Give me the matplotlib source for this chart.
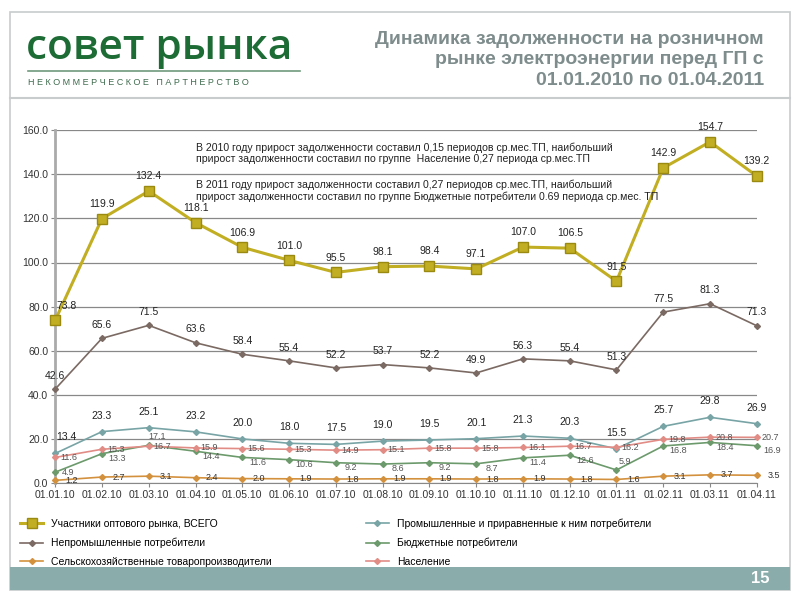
import matplotlib.pyplot as plt
import numpy as np

plt.rcParams['font.family'] = ['Liberation Sans', 'DejaVu Sans']

dates = ['01.01.10', '01.02.10', '01.03.10', '01.04.10', '01.05.10', '01.06.10',
         '01.07.10', '01.08.10', '01.09.10', '01.10.10', '01.11.10', '01.12.10',
         '01.01.11', '01.02.11', '01.03.11', '01.04.11']

total = [73.8, 119.9, 132.4, 118.1, 106.9, 101.0, 95.5, 98.1, 98.4, 97.1,
         107.0, 106.5, 91.5, 142.9, 154.7, 139.2]
nonind = [42.6, 65.6, 71.5, 63.6, 58.4, 55.4, 52.2, 53.7, 52.2, 49.9,
          56.3, 55.4, 51.3, 77.5, 81.3, 71.3]
industr = [13.4, 23.3, 25.1, 23.2, 20.0, 18.0, 17.5, 19.0, 19.5, 20.1,
           21.3, 20.3, 15.5, 25.7, 29.8, 26.9]
people = [11.6, 15.3, 16.7, 15.9, 15.6, 15.3, 14.9, 15.1, 15.8, 15.8,
          16.1, 16.7, 16.2, 19.8, 20.8, 20.7]
budget = [4.9, 13.3, 17.1, 14.4, 11.6, 10.6, 9.2, 8.6, 9.2, 8.7,
          11.4, 12.6, 5.9, 16.8, 18.4, 16.9]
agro = [1.2, 2.7, 3.1, 2.4, 2.0, 1.9, 1.8, 1.9, 1.9, 1.8,
        1.9, 1.8, 1.6, 3.1, 3.7, 3.5]

names = ['Участники оптового рынка, ВСЕГО',
         'Промышленные и приравненные к ним потребители',
         'Непромышленные потребители',
         'Бюджетные потребители',
         'Сельскохозяйственные товаропроизводители',
         'Население']

note2010 = ('В 2010 году прирост задолженности составил 0,15 периодов ср.мес.ТП, наибольший\n'
            'прирост задолженности составил по группе  Население 0,27 периода ср.мес.ТП')
note2011 = ('В 2011 году прирост задолженности составил 0,27 периодов ср.мес.ТП, наибольший\n'
            'прирост задолженности составил по группе Бюджетные потребители 0.69 периода ср.мес. ТП')

fig = plt.figure(figsize=(8, 6), dpi=100)
fig.patch.set_facecolor('white')

# slide frame, header and footer
fig.add_artist(plt.Rectangle((0.013, 0.017), 0.975, 0.963, fill=False,
                             edgecolor='#c8cccc', lw=1.2, transform=fig.transFigure))
fig.add_artist(plt.Line2D([0.013, 0.988], [0.837, 0.837], color='#c8cccc', lw=1.5))
fig.add_artist(plt.Rectangle((0.013, 0.017), 0.975, 0.038, facecolor='#8aacab',
                             edgecolor='none', transform=fig.transFigure))
fig.text(0.962, 0.036, '15', color='white', fontsize=12, fontweight='bold',
         ha='right', va='center')

fig.text(0.032, 0.92, 'совет рынка', color='#1d6b35', fontsize=30.5,
         fontweight='semibold', ha='left', va='center',
         family=['Open Sans', 'Liberation Sans'])
fig.add_artist(plt.Line2D([0.035, 0.375], [0.882, 0.882], color='#6f9b7d', lw=1.2))
fig.text(0.035, 0.862, 'Н Е К О М М Е Р Ч Е С К О Е   П А Р Т Н Е Р С Т В О',
         color='#3d6b4d', fontsize=6.5, ha='left', va='center')
fig.text(0.955, 0.9, 'Динамика задолженности на розничном\nрынке электроэнергии перед ГП с\n01.01.2010 по 01.04.2011',
         color='#7e8c8c', fontsize=14, fontweight='bold', ha='right', va='center',
         linespacing=1.3)

ax = fig.add_axes([0.069, 0.195, 0.877, 0.588])
x = np.arange(len(dates))

series = [
    (total, '#c2ae22', '#9a8a12', 's', 7, 2.2),
    (industr, '#78a4a6', '#78a4a6', 'D', 3, 1.2),
    (nonind, '#7b6a63', '#7b6a63', 'D', 3, 1.2),
    (budget, '#6c9a6c', '#6c9a6c', 'D', 3, 1.2),
    (agro, '#d3913e', '#d3913e', 'D', 3, 1.2),
    (people, '#e28c86', '#e28c86', 'D', 3, 1.2),
]
for (vals, col, ec, mk, ms, lw), nm in zip(series, names):
    ax.plot(x, vals, color=col, marker=mk, markersize=ms, markerfacecolor=col,
            markeredgecolor=ec, lw=lw, label=nm, clip_on=False, zorder=3)

lab_kw = dict(fontsize=7.5, color='#222222', ha='center')
small_kw = dict(fontsize=6.5, color='#555555', ha='center')
for i in range(len(x)):
    dx = 8 if i == 0 else 0
    ax.annotate(f'{total[i]:.1f}', (x[i], total[i]), xytext=(dx, 7),
                textcoords='offset points', va='bottom', **lab_kw)
    ax.annotate(f'{nonind[i]:.1f}', (x[i], nonind[i]), xytext=(0, 6),
                textcoords='offset points', va='bottom', **lab_kw)
    ax.annotate(f'{industr[i]:.1f}', (x[i], industr[i]), xytext=(dx, 8),
                textcoords='offset points', va='bottom', **lab_kw)
    ax.annotate(f'{people[i]:.1f}', (x[i], people[i]), xytext=(10, 0),
                textcoords='offset points', va='center', **small_kw)
    if i == 0:
        ax.annotate(f'{budget[i]:.1f}', (x[i], budget[i]), xytext=(9, 0),
                    textcoords='offset points', va='center', **small_kw)
    elif i in (2, 12):
        ax.annotate(f'{budget[i]:.1f}', (x[i], budget[i]), xytext=(6, 3),
                    textcoords='offset points', va='bottom', **small_kw)
    else:
        ax.annotate(f'{budget[i]:.1f}', (x[i], budget[i]), xytext=(11, -3.5),
                    textcoords='offset points', va='center', **small_kw)
    ax.annotate(f'{agro[i]:.1f}', (x[i], agro[i]), xytext=(12, 0),
                textcoords='offset points', va='center', fontsize=6.5,
                color='#333333', ha='center')

ax.text(0.2, 0.965, note2010, transform=ax.transAxes, fontsize=7.6,
        color='#222222', va='top', ha='left', linespacing=1.15)
ax.text(0.2, 0.86, note2011, transform=ax.transAxes, fontsize=7.6,
        color='#222222', va='top', ha='left', linespacing=1.15)

ax.set_xlim(0, 15)
ax.set_ylim(0, 160)
ax.set_yticks(np.arange(0, 161, 20))
ax.set_yticklabels([f'{v:.1f}' for v in np.arange(0, 161, 20)], fontsize=7.5,
                   color='#333333')
ax.set_xticks(x)
ax.set_xticklabels(dates, fontsize=7.5, color='#333333')
ax.grid(axis='y', color='#888888', lw=0.9)
ax.set_axisbelow(True)
for s in ['top', 'right']:
    ax.spines[s].set_visible(False)
ax.spines['left'].set_color('#aaaaaa')
ax.spines['left'].set_linewidth(2)
ax.spines['bottom'].set_color('#888888')
ax.tick_params(axis='both', length=3, color='#888888', pad=2)

handles, labels = ax.get_legend_handles_labels()
order = [0, 2, 4, 1, 3, 5]
fig.legend([handles[i] for i in order], [labels[i] for i in order],
           loc='upper left', bbox_to_anchor=(0.02, 0.143), ncol=2,
           fontsize=7.5, frameon=False, handlelength=2.2, labelspacing=0.85,
           columnspacing=9, borderaxespad=0)

fig.savefig('out.png', dpi=100)
